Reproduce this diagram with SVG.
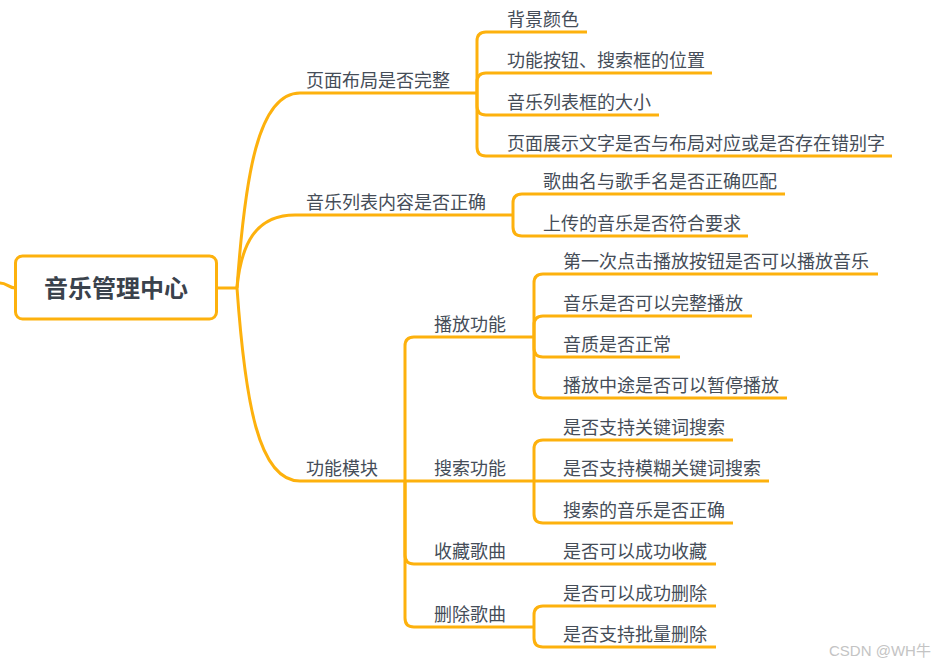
<svg xmlns="http://www.w3.org/2000/svg" width="940" height="665" viewBox="0 0 940 665">
<style>
.c{fill:none;stroke:#FDB10D;stroke-width:3;stroke-linecap:butt;stroke-linejoin:round}
.t{font-family:"Microsoft YaHei","Noto Sans CJK SC","Noto Sans",sans-serif;font-size:18px;fill:#454d58}
.root{font-family:"Microsoft YaHei","Noto Sans CJK SC","Noto Sans",sans-serif;font-size:24px;font-weight:bold;fill:#3a424c}
.wm{font-family:"Liberation Sans","Noto Sans CJK SC",sans-serif;font-size:15px;fill:#c4c4c4}
</style>
<rect width="940" height="665" fill="#ffffff"/>
<g id="connectors">
  <path class="c" d="M0,283 C7,283 9,288 15,288"/>
  <path class="c" d="M217,288 H237"/>
  <path class="c" d="M237,288 C245,176 258,93 300,93 H477"/>
  <path class="c" d="M237,288 C241,245 255,215 295,215 H513"/>
  <path class="c" d="M237,288 C245,400 258,481 300,481 H405"/>
  <!-- 页面布局 children -->
  <path class="c" d="M477,93 V41 Q477,32 486,32 H587"/>
  <path class="c" d="M477,93 V82 Q477,73 486,73 H712"/>
  <path class="c" d="M477,93 V106 Q477,115 486,115 H659"/>
  <path class="c" d="M477,93 V147 Q477,156 486,156 H892"/>
  <!-- 音乐列表 children -->
  <path class="c" d="M513,215 V203 Q513,194 522,194 H785"/>
  <path class="c" d="M513,215 V227 Q513,236 522,236 H748"/>
  <!-- 功能模块 children -->
  <path class="c" d="M405,481 V346 Q405,337 414,337 H534"/>
  <path class="c" d="M405,481 H534"/>
  <path class="c" d="M405,481 V555 Q405,564 414,564 H716"/>
  <path class="c" d="M405,481 V618 Q405,627 414,627 H534"/>
  <!-- 播放功能 children -->
  <path class="c" d="M534,337 V283 Q534,274 543,274 H878"/>
  <path class="c" d="M534,337 V325 Q534,316 543,316 H752"/>
  <path class="c" d="M534,337 V348 Q534,357 543,357 H680"/>
  <path class="c" d="M534,337 V389 Q534,398 543,398 H787"/>
  <!-- 搜索功能 children -->
  <path class="c" d="M534,481 V449 Q534,440 543,440 H733"/>
  <path class="c" d="M534,481 H769"/>
  <path class="c" d="M534,481 V514 Q534,523 543,523 H733"/>
  <!-- 删除歌曲 children -->
  <path class="c" d="M534,627 V615 Q534,606 543,606 H716"/>
  <path class="c" d="M534,627 V638 Q534,647 543,647 H716"/>
</g>
<g id="root">
  <rect x="15.5" y="256" width="201" height="63" rx="7" fill="#ffffff" stroke="#FDB10D" stroke-width="3"/>
  <text class="root" x="116" y="297" text-anchor="middle">音乐管理中心</text>
</g>
<g id="n-layout"><text class="t" x="306" y="87">页面布局是否完整</text></g>
<g id="n-bg"><text class="t" x="507" y="26">背景颜色</text></g>
<g id="n-btn"><text class="t" x="507" y="67">功能按钮、搜索框的位置</text></g>
<g id="n-listsize"><text class="t" x="507" y="109">音乐列表框的大小</text></g>
<g id="n-text"><text class="t" x="507" y="150">页面展示文字是否与布局对应或是否存在错别字</text></g>
<g id="n-list"><text class="t" x="306" y="209">音乐列表内容是否正确</text></g>
<g id="n-match"><text class="t" x="543" y="188">歌曲名与歌手名是否正确匹配</text></g>
<g id="n-upload"><text class="t" x="543" y="230">上传的音乐是否符合要求</text></g>
<g id="n-func"><text class="t" x="306" y="475">功能模块</text></g>
<g id="n-play"><text class="t" x="434" y="331">播放功能</text></g>
<g id="n-p1"><text class="t" x="563" y="268">第一次点击播放按钮是否可以播放音乐</text></g>
<g id="n-p2"><text class="t" x="563" y="310">音乐是否可以完整播放</text></g>
<g id="n-p3"><text class="t" x="563" y="351">音质是否正常</text></g>
<g id="n-p4"><text class="t" x="563" y="392">播放中途是否可以暂停播放</text></g>
<g id="n-search"><text class="t" x="434" y="475">搜索功能</text></g>
<g id="n-s1"><text class="t" x="563" y="434">是否支持关键词搜索</text></g>
<g id="n-s2"><text class="t" x="563" y="475">是否支持模糊关键词搜索</text></g>
<g id="n-s3"><text class="t" x="563" y="517">搜索的音乐是否正确</text></g>
<g id="n-fav"><text class="t" x="434" y="558">收藏歌曲</text></g>
<g id="n-f1"><text class="t" x="563" y="558">是否可以成功收藏</text></g>
<g id="n-del"><text class="t" x="434" y="621">删除歌曲</text></g>
<g id="n-d1"><text class="t" x="563" y="600">是否可以成功删除</text></g>
<g id="n-d2"><text class="t" x="563" y="641">是否支持批量删除</text></g>
<text class="wm" x="829" y="656">CSDN @WH牛</text>
</svg>
